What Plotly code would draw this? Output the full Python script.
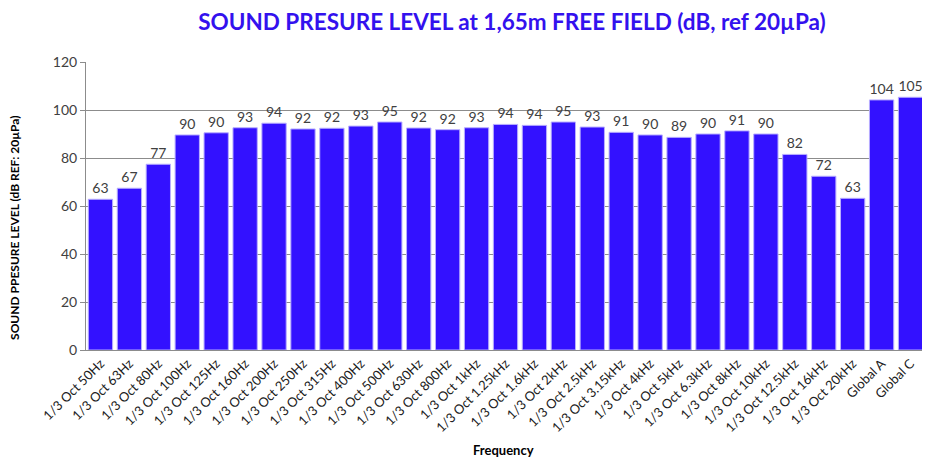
import plotly.graph_objects as go

categories = ["1/3 Oct 50Hz", "1/3 Oct 63Hz", "1/3 Oct 80Hz", "1/3 Oct 100Hz", "1/3 Oct 125Hz",
              "1/3 Oct 160Hz", "1/3 Oct 200Hz", "1/3 Oct 250Hz", "1/3 Oct 315Hz", "1/3 Oct 400Hz",
              "1/3 Oct 500Hz", "1/3 Oct 630Hz", "1/3 Oct 800Hz", "1/3 Oct 1kHz", "1/3 Oct 1.25kHz",
              "1/3 Oct 1.6kHz", "1/3 Oct 2kHz", "1/3 Oct 2.5kHz", "1/3 Oct 3.15kHz", "1/3 Oct 4kHz",
              "1/3 Oct 5kHz", "1/3 Oct 6.3kHz", "1/3 Oct 8kHz", "1/3 Oct 10kHz", "1/3 Oct 12.5kHz",
              "1/3 Oct 16kHz", "1/3 Oct 20kHz", "Global A", "Global C"]
values = [62.8, 67.4, 77.4, 89.6, 90.5, 92.6, 94.5, 92.1, 92.4, 93.3,
          95.0, 92.5, 91.8, 92.6, 94.0, 93.6, 95.0, 92.9, 90.7, 89.6,
          88.6, 90.0, 91.3, 90.0, 81.5, 72.4, 63.2, 104.2, 105.3]
labels = [f"{v:.0f}" for v in values]
y_ticks = [0, 20, 40, 60, 80, 100, 120]

fig = go.Figure(go.Bar(
    x=categories, y=values, text=labels, textposition="outside",
    textfont=dict(family="Lato, sans-serif", size=14, color="#404040"),
    cliponaxis=False,
    marker=dict(color="#3311FF", line=dict(color="#B8AEFF", width=1)),
))

fig.update_layout(
    width=922, height=452,
    margin=dict(l=78, r=5, t=54, b=110),
    paper_bgcolor="white", plot_bgcolor="white",
    bargap=0.16,
    showlegend=False,
    title=dict(
        text="SOUND PRESURE LEVEL at 1,65m FREE FIELD (dB, ref 20µPa)",
        x=0.5466, xanchor="center", y=0.968, yanchor="middle",
        font=dict(family="Lato, sans-serif", size=22.5, color="#3311EE", weight="bold"),
    ),
    font=dict(family="Lato, sans-serif", color="#404040"),
    annotations=[
        dict(text="<b>SOUND PPESURE LEVEL (dB REF: 20µPa)</b>", xref="paper", yref="paper",
             x=-0.0846, y=0.424, xanchor="center", yanchor="middle", textangle=-90,
             showarrow=False, font=dict(family="Lato, sans-serif", size=12, color="black")),
        dict(text="<b>Frequency</b>", xref="paper", yref="paper",
             x=0.498, y=-0.347, xanchor="center", yanchor="middle",
             showarrow=False, font=dict(family="Lato, sans-serif", size=13, color="black")),
    ],
)
fig.update_yaxes(
    range=[0, 120], tickvals=y_ticks, showgrid=True, gridcolor="#8c8c8c", gridwidth=1,
    showline=True, linecolor="#8c8c8c", linewidth=1,
    ticks="outside", ticklen=5, tickcolor="#8c8c8c",
    tickfont=dict(size=14, color="#404040"),
    zeroline=False, automargin=False,
)
fig.update_xaxes(
    tickangle=-45, showline=True, linecolor="#8c8c8c", linewidth=1,
    tickfont=dict(size=13, color="#202020"), automargin=False,
)

fig.write_html("out.html")
